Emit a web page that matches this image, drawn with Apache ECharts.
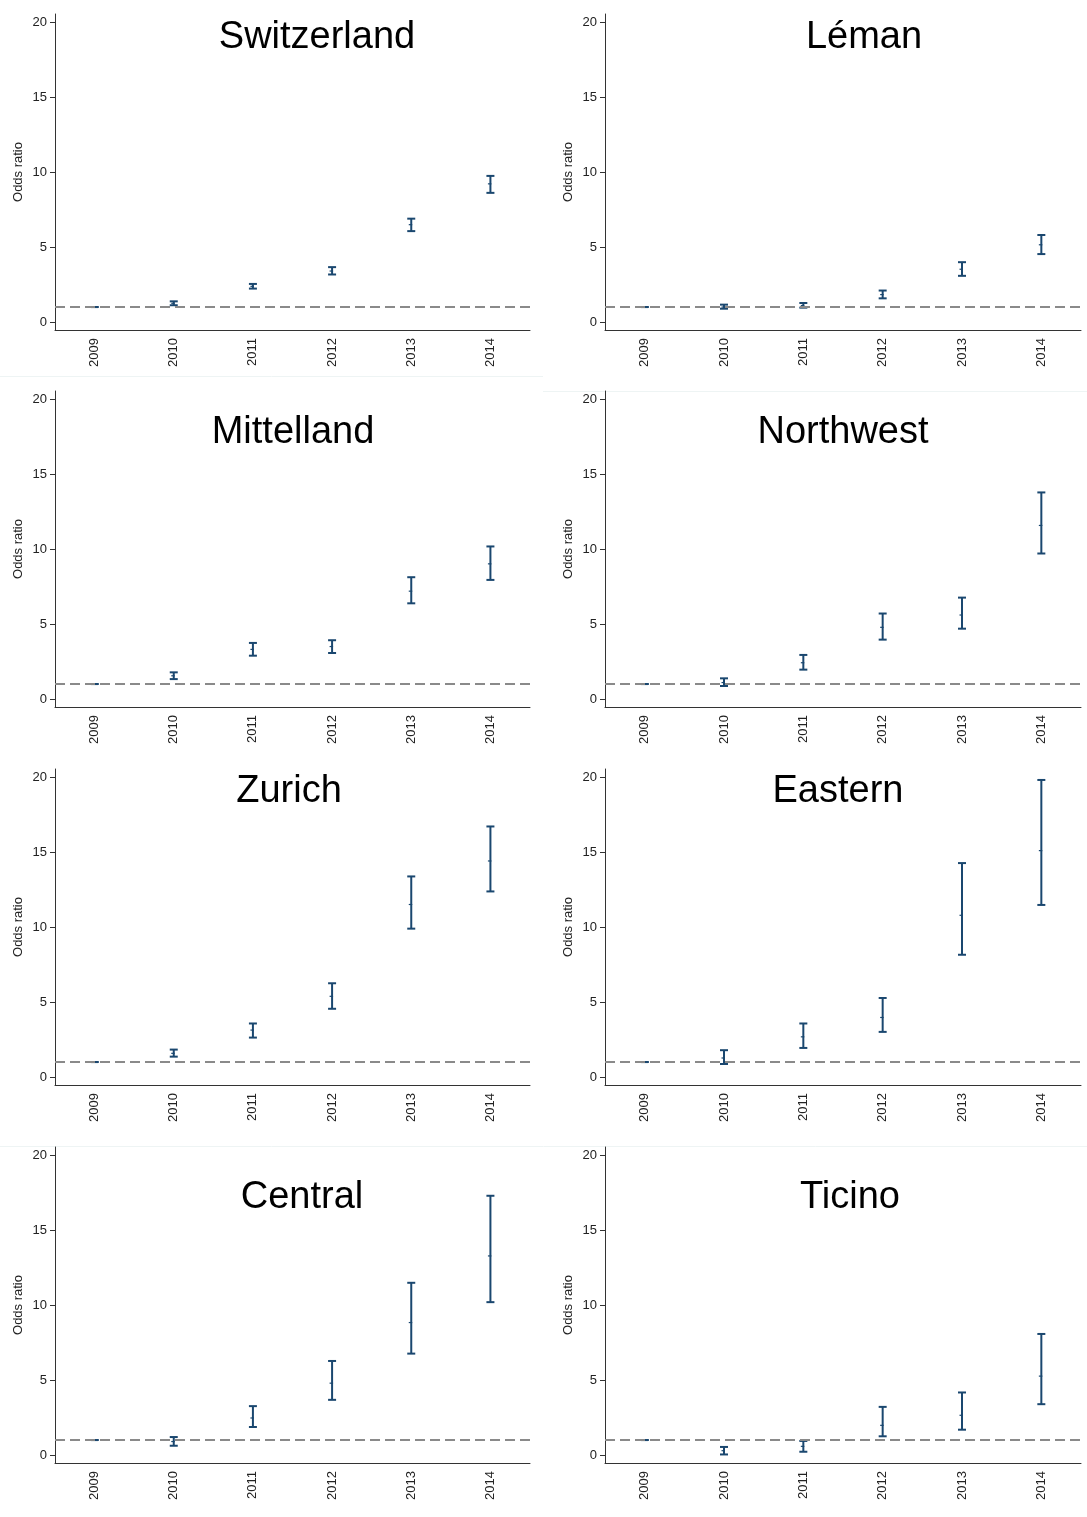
<!DOCTYPE html>
<html>
<head>
<meta charset="utf-8">
<script src="https://cdn.jsdelivr.net/npm/echarts@6/dist/echarts.min.js"></script>
<style>
html,body{margin:0;padding:0;background:#fff;}
#chart{width:1087px;height:1517px;}
</style>
</head>
<body>
<div id="chart"></div>
<script>
// ---- data ----
const years = ['2009', '2010', '2011', '2012', '2013', '2014'];
const yTicks = [0, 5, 10, 15, 20];
const refLine = 1;
const regions = ['Switzerland', 'Léman', 'Mittelland', 'Northwest', 'Zurich', 'Eastern', 'Central', 'Ticino'];

const switzerlandLow = [1.0, 1.12, 2.23, 3.17, 6.06, 8.61];
const switzerlandEst = [1.0, 1.25, 2.38, 3.40, 6.49, 9.21];
const switzerlandHigh = [1.0, 1.38, 2.54, 3.66, 6.89, 9.74];

const lemanLow = [1.0, 0.89, 0.96, 1.58, 3.08, 4.53];
const lemanEst = [1.0, 1.00, 1.10, 1.83, 3.52, 5.15];
const lemanHigh = [1.0, 1.16, 1.27, 2.10, 3.99, 5.80];

const mittellandLow = [1.0, 1.33, 2.89, 3.07, 6.38, 7.94];
const mittellandEst = [1.0, 1.55, 3.31, 3.50, 7.19, 9.01];
const mittellandHigh = [1.0, 1.78, 3.74, 3.92, 8.12, 10.17];

const northwestLow = [1.0, 0.87, 1.96, 3.96, 4.69, 9.70];
const northwestEst = [1.0, 1.10, 2.42, 4.78, 5.60, 11.57];
const northwestHigh = [1.0, 1.38, 2.94, 5.70, 6.76, 13.77];

const zurichLow = [1.0, 1.36, 2.63, 4.55, 9.89, 12.37];
const zurichEst = [1.0, 1.58, 3.13, 5.38, 11.50, 14.40];
const zurichHigh = [1.0, 1.83, 3.57, 6.25, 13.37, 16.70];

const easternLow = [1.0, 0.87, 1.94, 3.01, 8.15, 11.47];
const easternEst = [1.0, 1.27, 2.68, 3.97, 10.78, 15.09];
const easternHigh = [1.0, 1.79, 3.57, 5.27, 14.26, 19.80];

const centralLow = [1.0, 0.62, 1.87, 3.68, 6.76, 10.19];
const centralEst = [1.0, 0.90, 2.47, 4.79, 8.83, 13.27];
const centralHigh = [1.0, 1.20, 3.26, 6.27, 11.48, 17.28];

const ticinoLow = [1.0, 0.04, 0.22, 1.25, 1.69, 3.39];
const ticinoEst = [1.0, 0.29, 0.58, 1.98, 2.65, 5.26];
const ticinoHigh = [1.0, 0.54, 0.94, 3.21, 4.17, 8.07];

const lows = [switzerlandLow, lemanLow, mittellandLow, northwestLow, zurichLow, easternLow, centralLow, ticinoLow];
const ests = [switzerlandEst, lemanEst, mittellandEst, northwestEst, zurichEst, easternEst, centralEst, ticinoEst];
const highs = [switzerlandHigh, lemanHigh, mittellandHigh, northwestHigh, zurichHigh, easternHigh, centralHigh, ticinoHigh];

// ---- layout ----
const FONT = '"Liberation Sans", Arial, sans-serif';
const BAR = '#1a476f';
const colLeft = [55, 605];
const colWidth = [475, 476];
const rowTop = [14, 391, 769, 1147];
const gridH = 316;
const titlePos = [
  [317, 38], [864, 38],
  [293, 433], [843, 433],
  [289, 792], [838, 792],
  [302, 1198], [850, 1198]
];

function renderItem(params, api) {
  const idx = api.value(0);
  const x = api.coord([idx, 0])[0];
  const lo = api.coord([idx, api.value(1)])[1];
  const hi = api.coord([idx, api.value(2)])[1];
  const mid = api.coord([idx, api.value(3)])[1];
  const cw = 4;
  const st = { stroke: BAR, lineWidth: 2 };
  return {
    type: 'group',
    children: [
      { type: 'line', shape: { x1: x, y1: lo, x2: x, y2: hi }, style: st },
      { type: 'line', shape: { x1: x - cw, y1: lo, x2: x + cw, y2: lo }, style: st },
      { type: 'line', shape: { x1: x - cw, y1: hi, x2: x + cw, y2: hi }, style: st },
      { type: 'line', shape: { x1: x - 2.5, y1: mid, x2: x + 1, y2: mid }, style: { stroke: BAR, lineWidth: 1.2 } }
    ]
  };
}

const grids = [], xAxes = [], yAxes = [], series = [], graphics = [];
regions.forEach((name, i) => {
  const col = i % 2, row = Math.floor(i / 2);
  grids.push({ left: colLeft[col], top: rowTop[row], width: colWidth[col], height: gridH, containLabel: false });
  xAxes.push({
    type: 'category', gridIndex: i, data: years, boundaryGap: true,
    axisLine: { onZero: false, lineStyle: { color: '#333', width: 1 } },
    axisTick: { alignWithLabel: true, length: 5, lineStyle: { color: '#333' } },
    axisLabel: { rotate: 90, fontSize: 13, fontFamily: FONT, color: '#222', margin: 8 },
    splitLine: { show: false }
  });
  yAxes.push({
    type: 'value', gridIndex: i, min: -0.53, max: 20.53,
    name: 'Odds ratio', nameLocation: 'middle', nameGap: 30, nameRotate: 90,
    nameTextStyle: { fontSize: 13, fontFamily: FONT, color: '#222' },
    axisLine: { show: true, onZero: false, lineStyle: { color: '#333', width: 1 } },
    axisTick: { show: true, length: 5, customValues: yTicks, lineStyle: { color: '#333' } },
    axisLabel: { fontSize: 13, fontFamily: FONT, color: '#222', margin: 8, customValues: yTicks },
    splitLine: { show: false }
  });
  const data = years.map((y, k) => [k, lows[i][k], highs[i][k], ests[i][k]]);
  series.push({
    type: 'custom', xAxisIndex: i, yAxisIndex: i, renderItem: renderItem,
    encode: { x: 0, y: [1, 2, 3] }, data: data, silent: true, z: 3,
    markLine: {
      silent: true, symbol: ['none', 'none'], label: { show: false },
      lineStyle: { type: [10, 5], color: '#8a8a8a', width: 2 },
      data: [{ yAxis: refLine }], animation: false
    }
  });
  graphics.push({
    type: 'text', x: titlePos[i][0], y: titlePos[i][1],
    style: { text: name, font: '38px ' + FONT, fill: '#000', align: 'center', verticalAlign: 'middle' }
  });
});

// faint panel separators
graphics.push({ type: 'line', shape: { x1: 0, y1: 376.5, x2: 543, y2: 376.5 }, style: { stroke: '#eef4f4', lineWidth: 1 } });
graphics.push({ type: 'line', shape: { x1: 543, y1: 391.5, x2: 1087, y2: 391.5 }, style: { stroke: '#eef4f4', lineWidth: 1 } });
graphics.push({ type: 'line', shape: { x1: 0, y1: 1146.5, x2: 1087, y2: 1146.5 }, style: { stroke: '#eef4f4', lineWidth: 1 } });

const chart = echarts.init(document.getElementById('chart'), null, { renderer: 'canvas' });
chart.setOption({
  animation: false,
  backgroundColor: '#fff',
  grid: grids,
  xAxis: xAxes,
  yAxis: yAxes,
  series: series,
  graphic: graphics
});
</script>
</body>
</html>
